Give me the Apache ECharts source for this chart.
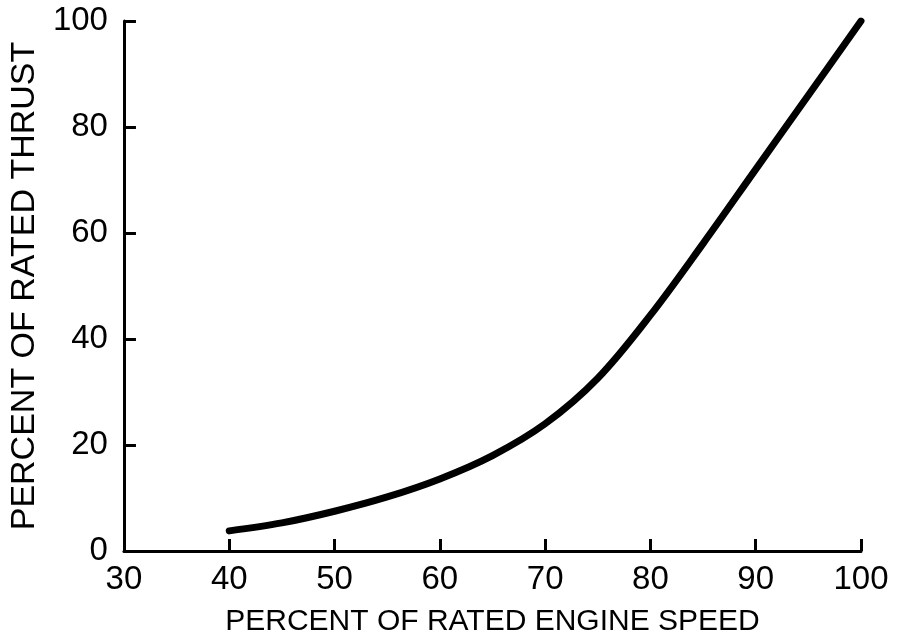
<!DOCTYPE html>
<html>
<head>
<meta charset="utf-8">
<script src="https://cdn.jsdelivr.net/npm/echarts@6/dist/echarts.min.js"></script>
<style>html,body{margin:0;padding:0;background:#fff}#c{width:899px;height:643px}</style>
</head>
<body>
<div id="c"></div>
<script>
var engineSpeed = [40, 45, 50, 55, 60, 65, 70, 75, 80, 85, 90, 95, 100];
var ratedThrust = [3.8, 5.3, 7.5, 10.2, 13.6, 18.0, 24.0, 32.6, 44.5, 58, 72, 86, 100];
var xTicks = [30, 40, 50, 60, 70, 80, 90, 100];
var yTicks = [0, 20, 40, 60, 80, 100];
var xTitle = 'PERCENT OF RATED ENGINE SPEED';
var yTitle = 'PERCENT OF RATED THRUST';

var points = engineSpeed.map(function (x, i) { return [x, ratedThrust[i]]; });
var font = 'Liberation Sans';
var chart = echarts.init(document.getElementById('c'), null, {renderer: 'canvas'});
chart.setOption({
  backgroundColor: '#fff',
  animation: false,
  grid: {left: 118, right: 38, top: 21, bottom: 92, containLabel: false},
  xAxis: {
    type: 'value', min: xTicks[0], max: xTicks[xTicks.length - 1], interval: 10,
    name: xTitle, nameLocation: 'middle', nameGap: 56,
    nameTextStyle: {fontFamily: font, fontSize: 30, color: '#000'},
    axisLine: {onZero: false, lineStyle: {color: '#000', width: 3}},
    axisTick: {inside: true, length: 12, lineStyle: {color: '#000', width: 3}},
    axisLabel: {fontFamily: font, fontSize: 33, color: '#000', margin: 12},
    splitLine: {show: false}
  },
  yAxis: {
    type: 'value', min: yTicks[0], max: yTicks[yTicks.length - 1], interval: 20,
    name: yTitle, nameLocation: 'middle', nameGap: 72,
    nameTextStyle: {fontFamily: font, fontSize: 34, color: '#000'},
    axisLine: {onZero: false, lineStyle: {color: '#000', width: 3}},
    axisTick: {inside: true, length: 12, lineStyle: {color: '#000', width: 3}},
    axisLabel: {fontFamily: font, fontSize: 33, color: '#000', margin: 16},
    splitLine: {show: false}
  },
  series: [{
    type: 'line', data: points, smooth: 0.35, showSymbol: false,
    lineStyle: {color: '#000', width: 7, cap: 'round', join: 'round'}
  }]
});
</script>
</body>
</html>
